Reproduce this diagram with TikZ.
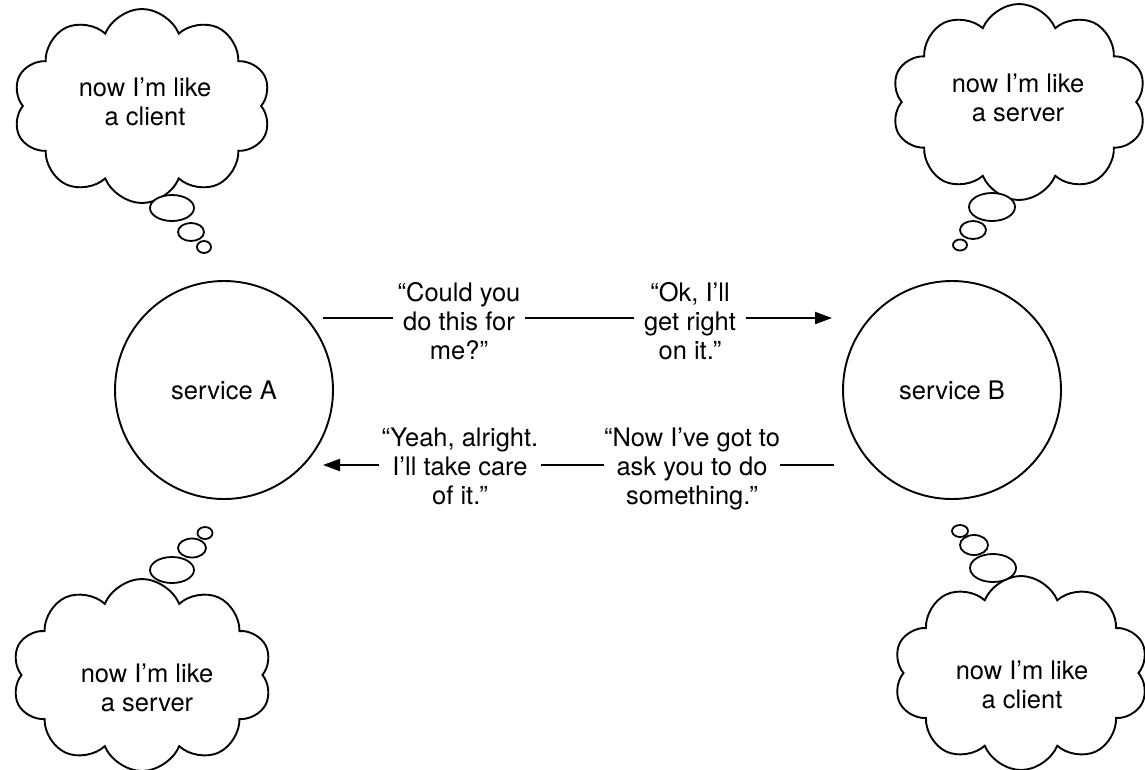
\documentclass[tikz,border=0pt]{standalone}
\usepackage{fontspec}
\setmainfont{TeX Gyre Heros}
\usetikzlibrary{shapes.symbols,shapes.geometric,arrows.meta}
\begin{document}
\begin{tikzpicture}[x=1pt,y=-1pt,
  every node/.style={font=\fontsize{25.5}{29}\selectfont},
  svc/.style={circle,draw,line width=1.9pt,minimum size=218pt,inner sep=0pt},
  thought/.style={cloud,draw,line width=1.9pt,cloud puffs=10,cloud puff arc=135,cloud ignores aspect,inner sep=0pt},
  bub/.style={ellipse,draw,fill=white,line width=1.8pt,inner sep=0pt},
  ctext/.style={align=center,inner sep=0pt},
  txt/.style={anchor=base,inner sep=0pt},
  mid/.style={anchor=base,inner xsep=10pt,inner ysep=0pt},
  conn/.style={line width=2.1pt},
  tip/.style={-{Triangle[length=17pt,width=12pt]}}
]
\useasboundingbox (0,0) rectangle (1145,769);

% services
\node[svc] (A) at (224,390) {service A};
\node[svc] (B) at (952,390) {service B};

% clouds
\node[thought,minimum width=258pt,minimum height=194pt] (c1) at (142,106) {};
\node[thought,minimum width=255pt,minimum height=196pt] (c2) at (1019,102) {};
\node[thought,minimum width=260pt,minimum height=192pt] (c3) at (142,675) {};
\node[thought,minimum width=255pt,minimum height=194pt] (c4) at (1021,673) {};

\node[ctext] (t1) at (145,102) {now I’m like\\a client};
\node[ctext] (t2) at (1018,98) {now I’m like\\a server};
\node[ctext] (t3) at (147,688) {now I’m like\\a server};
\node[ctext] (t4) at (1022,685) {now I’m like\\a client};

% bubbles
\node[bub,minimum width=44pt,minimum height=26pt] (b11) at (172,208) {};
\node[bub,minimum width=26pt,minimum height=18pt] (b12) at (191,232) {};
\node[bub,minimum width=14pt,minimum height=12pt] (b13) at (204,247) {};
\node[bub,minimum width=46pt,minimum height=28pt] (b21) at (992,207) {};
\node[bub,minimum width=26pt,minimum height=18pt] (b22) at (973,230) {};
\node[bub,minimum width=14pt,minimum height=11pt] (b23) at (960,245) {};
\node[bub,minimum width=44pt,minimum height=26pt] (b31) at (172,570) {};
\node[bub,minimum width=28pt,minimum height=19pt] (b32) at (192,548) {};
\node[bub,minimum width=15pt,minimum height=12pt] (b33) at (205,533) {};
\node[bub,minimum width=46pt,minimum height=28pt] (b41) at (993,568) {};
\node[bub,minimum width=28pt,minimum height=20pt] (b42) at (974,545) {};
\node[bub,minimum width=16pt,minimum height=12pt] (b43) at (960,531) {};

% top message
\node[txt] (q1t) at (459,301) {“Could you};
\node[mid] (q1m) at (459,330) {do this for};
\node[txt] (q1b) at (459,359) {me?”};
\node[txt] (q2t) at (690,301) {“Ok, I’ll};
\node[mid] (q2m) at (690,330) {get right};
\node[txt] (q2b) at (690,359) {on it.”};
\coordinate (s1) at (323,318);
\coordinate (e1) at (832,318);
\draw[conn] (s1) -- (q1m.west |- s1);
\draw[conn] (q1m.east |- s1) -- (q2m.west |- s1);
\draw[conn,tip] (q2m.east |- s1) -- (e1);

% bottom message
\node[txt] (q3t) at (460,446) {“Yeah, alright.};
\node[mid,inner xsep=13pt] (q3m) at (460,475) {I’ll take care};
\node[txt] (q3b) at (460,504) {of it.”};
\node[txt] (q4t) at (692,446) {“Now I’ve got to};
\node[mid,inner xsep=12pt] (q4m) at (692,475) {ask you to do};
\node[txt] (q4b) at (692,504) {something.”};
\coordinate (s2) at (834,465);
\coordinate (e2) at (323,465);
\draw[conn] (s2) -- (q4m.east |- s2);
\draw[conn] (q4m.west |- s2) -- (q3m.east |- s2);
\draw[conn,tip] (q3m.west |- s2) -- (e2);
\end{tikzpicture}
\end{document}
